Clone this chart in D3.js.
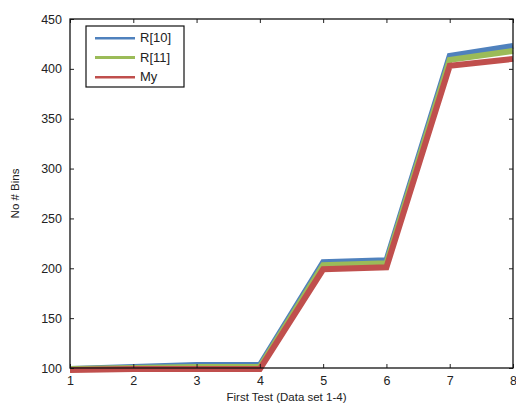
<!DOCTYPE html>
<html>
<head>
<meta charset="utf-8">
<script src="https://cdn.jsdelivr.net/npm/d3@7"></script>
<style>
  body { margin: 0; background: #fff; }
  text { font-family: "Liberation Sans", Arial, sans-serif; fill: #222; }
</style>
</head>
<body>
<svg id="chart" width="516" height="403"></svg>
<script>
const tests = [1, 2, 3, 4, 5, 6, 7, 8];
const r10 = [99, 101, 103, 103, 206, 208, 413, 423];
const r11 = [99, 100, 101, 101, 203, 205, 409, 418];
const my = [98, 99, 99, 99, 199, 201, 403, 410];
const yTicks = [100, 150, 200, 250, 300, 350, 400, 450];

const series = [
  { name: "R[10]", values: r10, color: "#4f81bd" },
  { name: "R[11]", values: r11, color: "#9bbb59" },
  { name: "My", values: my, color: "#c0504d" }
];

var margin = { top: 19, right: 3, bottom: 35, left: 70 },
  width = 516 - margin.left - margin.right,
  height = 403 - margin.top - margin.bottom;

const svg = d3.select("#chart");

const defs = svg.append("defs");
const f = defs.append("filter").attr("id", "soft")
  .attr("filterUnits", "userSpaceOnUse")
  .attr("x", 0).attr("y", 0).attr("width", 516).attr("height", 403);
f.append("feGaussianBlur").attr("stdDeviation", 0.7);

const g = svg.append("g")
  .attr("transform", "translate(" + margin.left + "," + margin.top + ")");

var x = d3.scaleLinear().domain([1, 8]).range([0, width]);
var y = d3.scaleLinear().domain([100, 450]).range([height, 0]);

// lines
var line = d3.line()
  .x((d, i) => x(tests[i]))
  .y(d => y(d));

g.selectAll(".series")
  .data(series)
  .enter()
  .append("path")
  .attr("class", "series")
  .attr("d", d => line(d.values))
  .attr("fill", "none")
  .attr("stroke", d => d.color)
  .attr("stroke-width", 6)
  .attr("stroke-linejoin", "miter")
  .attr("filter", "url(#soft)");

// axes, ticks inward on all four sides
const tickLen = 4;
g.append("g")
  .attr("transform", "translate(0," + height + ")")
  .call(d3.axisBottom(x).tickValues(tests).tickFormat(d3.format("d")).tickSizeInner(-tickLen).tickSizeOuter(0).tickPadding(8));
g.append("g")
  .call(d3.axisTop(x).tickValues(tests).tickFormat("").tickSizeInner(-tickLen).tickSizeOuter(0));
g.append("g")
  .call(d3.axisLeft(y).tickValues(yTicks).tickSizeInner(-tickLen).tickSizeOuter(0).tickPadding(8));
g.append("g")
  .attr("transform", "translate(" + width + ",0)")
  .call(d3.axisRight(y).tickValues(yTicks).tickFormat("").tickSizeInner(-tickLen).tickSizeOuter(0));

g.selectAll(".domain").remove();
g.selectAll(".tick line").attr("stroke", "#222");
g.selectAll(".tick text").style("font-size", "12.5px").attr("fill", "#222");

g.append("rect")
  .attr("width", width)
  .attr("height", height)
  .attr("fill", "none")
  .attr("stroke", "#111")
  .attr("stroke-width", 1.3);

// axis titles
g.append("text")
  .attr("x", width / 2 - 5)
  .attr("y", height + 33)
  .attr("text-anchor", "middle")
  .style("font-size", "11.5px")
  .text("First Test (Data set 1-4)");

g.append("text")
  .attr("transform", "translate(" + (-51) + "," + (height / 2) + ") rotate(-90)")
  .attr("text-anchor", "middle")
  .style("font-size", "11.5px")
  .text("No # Bins");

// legend
const legend = g.append("g").attr("transform", "translate(16,7)");
legend.append("rect")
  .attr("width", 98)
  .attr("height", 61)
  .attr("fill", "#fff")
  .attr("stroke", "#111")
  .attr("stroke-width", 1.2);

const item = legend.selectAll(".item")
  .data(series)
  .enter()
  .append("g")
  .attr("transform", (d, i) => "translate(0," + (11 + i * 19.5) + ")");
item.append("line")
  .attr("x1", 9).attr("x2", 49)
  .attr("stroke", d => d.color)
  .attr("stroke-width", 5)
  .attr("filter", "url(#soft)");
item.append("text")
  .attr("x", 54)
  .attr("y", 5)
  .style("font-size", "13px")
  .text(d => d.name);
</script>
</body>
</html>
